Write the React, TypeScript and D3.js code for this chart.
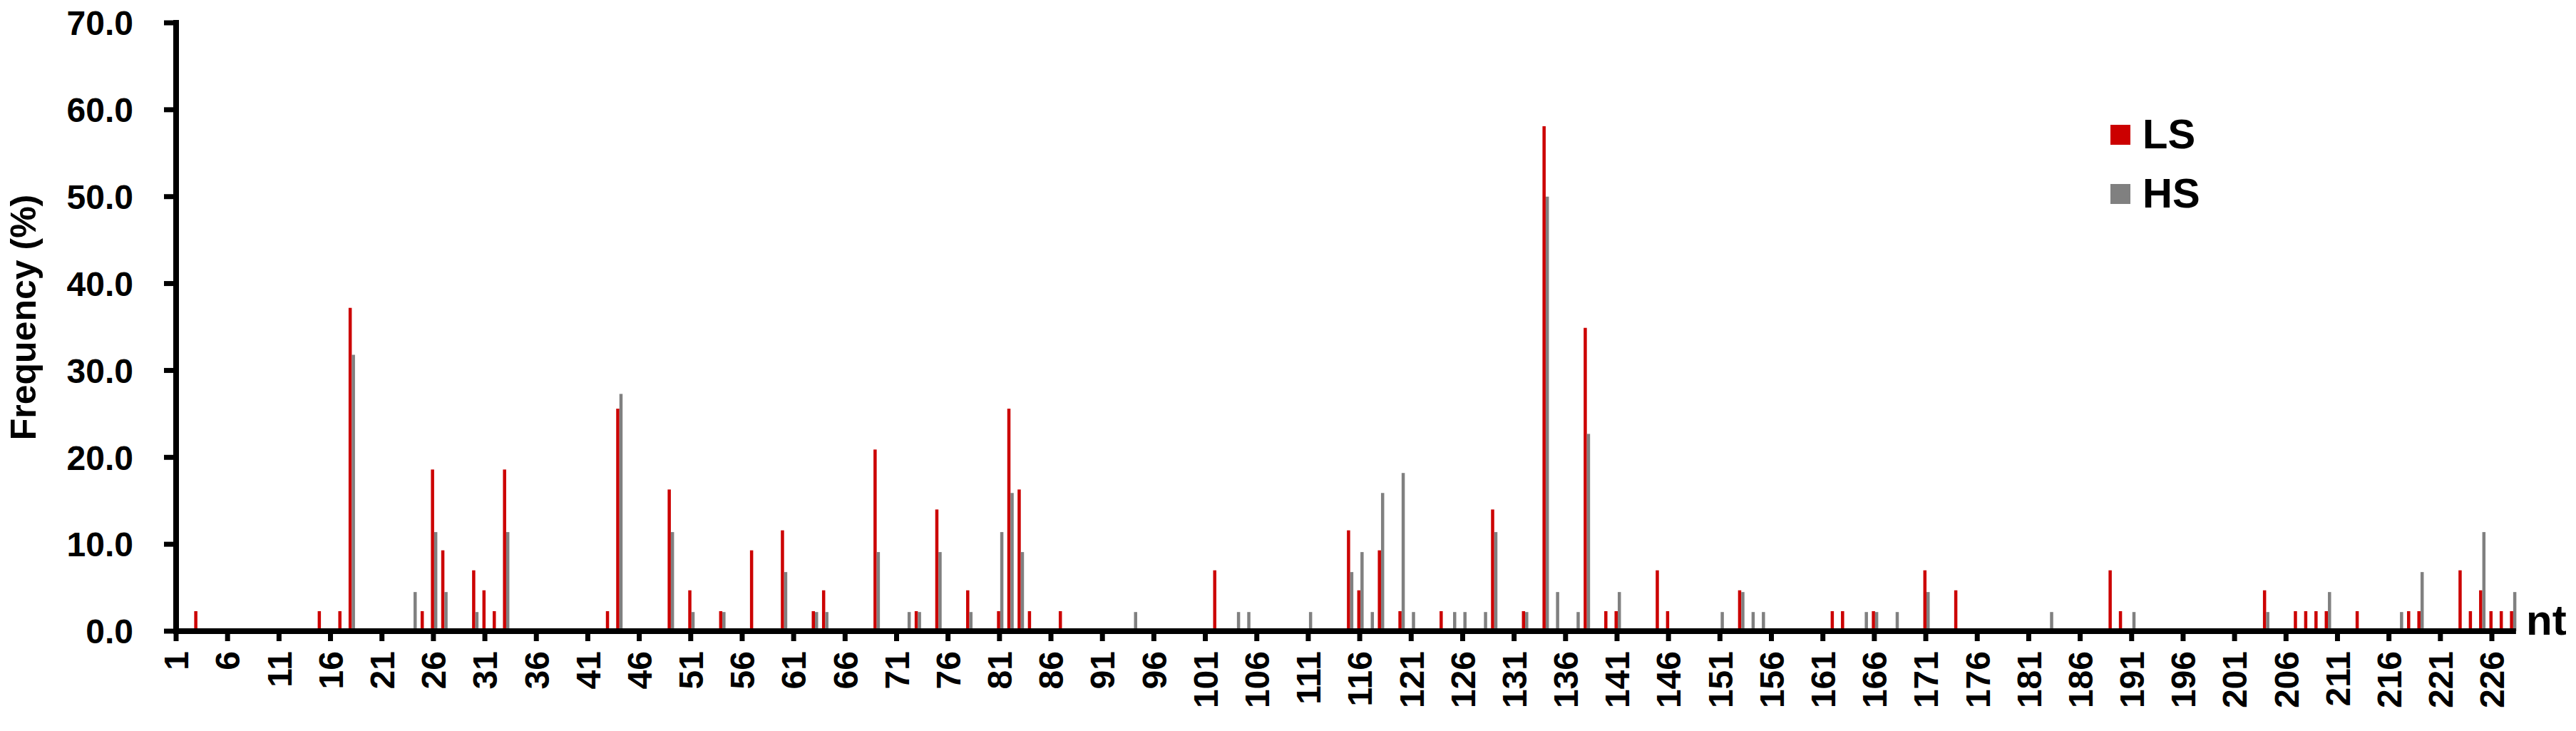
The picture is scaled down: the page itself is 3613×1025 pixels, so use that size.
import React from "react";
import * as d3 from "d3";

// nucleotide positions 1..228
const categories: number[] = d3.range(1, 229);
const tickLabels: number[] = d3.range(1, 229, 5);
const yTicks: number[] = [0, 10, 20, 30, 40, 50, 60, 70];

// LS series (red) — position / frequency (%)
const lsPositions: number[] = [3, 15, 17, 18, 25, 26, 27, 30, 31, 32, 33, 43, 44, 49, 51, 54, 57, 60, 63, 64, 69, 73, 75, 78, 81, 82, 83, 84, 87, 102, 115, 116, 118, 120, 124, 129, 132, 134, 138, 140, 141, 145, 146, 153, 162, 163, 166, 171, 174, 189, 190, 204, 207, 208, 209, 210, 213, 218, 219, 223, 224, 225, 226, 227, 228];
const lsValues: number[] = [2.3, 2.3, 2.3, 37.2, 2.3, 18.6, 9.3, 7.0, 4.7, 2.3, 18.6, 2.3, 25.6, 16.3, 4.7, 2.3, 9.3, 11.6, 2.3, 4.7, 20.9, 2.3, 14.0, 4.7, 2.3, 25.6, 16.3, 2.3, 2.3, 7.0, 11.6, 4.7, 9.3, 2.3, 2.3, 14.0, 2.3, 58.1, 34.9, 2.3, 2.3, 7.0, 2.3, 4.7, 2.3, 2.3, 2.3, 7.0, 4.7, 7.0, 2.3, 4.7, 2.3, 2.3, 2.3, 2.3, 2.3, 2.3, 2.3, 7.0, 2.3, 4.7, 2.3, 2.3, 2.3];

// HS series (gray)
const hsPositions: number[] = [18, 24, 26, 27, 30, 33, 44, 49, 51, 54, 60, 63, 64, 69, 72, 73, 75, 78, 81, 82, 83, 94, 104, 105, 111, 115, 116, 117, 118, 120, 121, 125, 126, 128, 129, 132, 134, 135, 137, 138, 141, 151, 153, 154, 155, 165, 166, 168, 171, 183, 191, 204, 210, 217, 219, 225, 228];
const hsValues: number[] = [31.8, 4.5, 11.4, 4.5, 2.2, 11.4, 27.3, 11.4, 2.2, 2.2, 6.8, 2.2, 2.2, 9.1, 2.2, 2.2, 9.1, 2.2, 11.4, 15.9, 9.1, 2.2, 2.2, 2.2, 2.2, 6.8, 9.1, 2.2, 15.9, 18.2, 2.2, 2.2, 2.2, 2.2, 11.4, 2.2, 50.0, 4.5, 2.2, 22.7, 4.5, 2.2, 4.5, 2.2, 2.2, 2.2, 2.2, 2.2, 4.5, 2.2, 2.2, 2.2, 4.5, 2.2, 6.8, 11.4, 4.5];

const seriesNames: string[] = ["LS", "HS"];
const seriesColors: string[] = ["#cc0000", "#808080"];

const FONT = "'Liberation Sans', Arial, sans-serif";

export default function App() {
  const W = 3613;
  const H = 1025;
  const x = d3.scaleLinear().domain([1, 226]).range([247, 3495]);
  const y = d3.scaleLinear().domain([0, 70]).range([885, 32]);
  const barW = 4.5;
  const lastX = x(categories[categories.length - 1]);

  const ls = lsPositions.map((p, i) => ({ p, v: lsValues[i] }));
  const hs = hsPositions.map((p, i) => ({ p, v: hsValues[i] }));

  return (
    <svg
      width={W}
      height={H}
      style={{ position: "absolute", left: 0, top: 0, background: "#fff" }}
      fontFamily={FONT}
    >
      <rect x={0} y={0} width={W} height={H} fill="#fff" />
      {/* bars */}
      {ls.map((d) => (
        <rect
          key={"ls" + d.p}
          x={x(d.p) - 3.5}
          y={y(d.v)}
          width={barW}
          height={y(0) - y(d.v)}
          fill={seriesColors[0]}
        />
      ))}
      {hs.map((d) => (
        <rect
          key={"hs" + d.p}
          x={x(d.p) + 1}
          y={y(d.v)}
          width={barW}
          height={y(0) - y(d.v)}
          fill={seriesColors[1]}
        />
      ))}
      {/* y axis */}
      <line x1={x(1)} x2={x(1)} y1={y(70) - 4} y2={y(0) + 4} stroke="#000" strokeWidth={8} />
      {yTicks.map((t) => (
        <g key={"yt" + t}>
          <line x1={x(1) - 17} x2={x(1)} y1={y(t)} y2={y(t)} stroke="#000" strokeWidth={7} />
          <text
            x={187}
            y={y(t)}
            dy="0.36em"
            textAnchor="end"
            fontSize={48}
            fontWeight="bold"
            fill="#000"
          >
            {d3.format(".1f")(t)}
          </text>
        </g>
      ))}
      {/* x axis */}
      <line x1={x(1) - 4} x2={lastX + 5} y1={y(0)} y2={y(0)} stroke="#000" strokeWidth={8} />
      {tickLabels.map((t) => (
        <g key={"xt" + t}>
          <line x1={x(t)} x2={x(t)} y1={y(0)} y2={y(0) + 14} stroke="#000" strokeWidth={7} />
          <text
            transform={`translate(${x(t)},${913}) rotate(-90)`}
            dy="0.36em"
            textAnchor="end"
            fontSize={48}
            fontWeight="bold"
            fill="#000"
          >
            {t}
          </text>
        </g>
      ))}
      <text x={3543} y={890} fontSize={60} fontWeight="bold" fill="#000">
        nt
      </text>
      {/* y label */}
      <text
        transform={`translate(50,445) rotate(-90)`}
        textAnchor="middle"
        fontSize={50}
        fontWeight="bold"
        fill="#000"
      >
        Frequency (%)
      </text>
      {/* legend */}
      {seriesNames.map((n, i) => (
        <g key={n} transform={`translate(2960,${175 + i * 83})`}>
          <rect x={0} y={0} width={28} height={28} fill={seriesColors[i]} />
          <text x={45} y={33} fontSize={58} fontWeight="bold" fill="#000">
            {n}
          </text>
        </g>
      ))}
    </svg>
  );
}
